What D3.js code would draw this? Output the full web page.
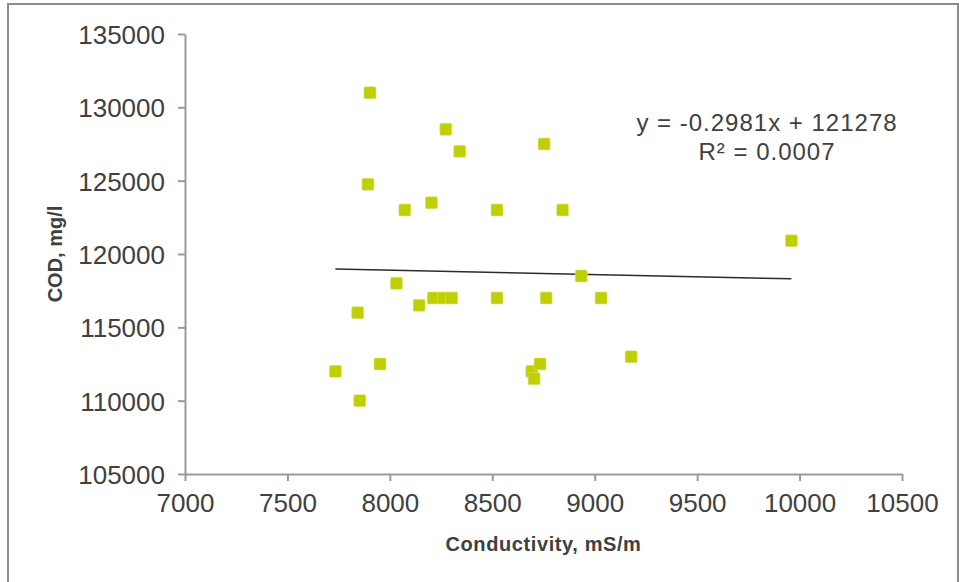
<!DOCTYPE html>
<html>
<head>
<meta charset="utf-8">
<script src="https://cdn.jsdelivr.net/npm/d3@7"></script>
<style>
  html, body { margin: 0; padding: 0; background: #fff; }
  svg { display: block; }
</style>
</head>
<body>
<svg id="chart" width="959" height="582"></svg>
<script>
// ---- data ----
const conductivity = [7903, 8273, 8341, 8753, 7893, 8073, 8203, 8523, 8843, 8032, 8143, 7843, 8212, 8261, 8302, 8523, 8763, 7734, 7952, 7853, 8693, 8733, 8704, 9960, 8934, 9031, 9178];
const cod = [131000, 128500, 127000, 127500, 124750, 123000, 123500, 123000, 123000, 118000, 116500, 116000, 117000, 117000, 117000, 117000, 117000, 112000, 112500, 110000, 112000, 112500, 111500, 120900, 118500, 117000, 113000];
const xTicks = [7000, 7500, 8000, 8500, 9000, 9500, 10000, 10500];
const yTicks = [105000, 110000, 115000, 120000, 125000, 130000, 135000];
const trendSlope = [-0.2981];
const trendIntercept = [121278];
const trendLabels = ["y = -0.2981x + 121278", "R² = 0.0007"];
const xTitle = "Conductivity, mS/m";
const yTitle = "COD, mg/l";

// ---- layout ----
const svg = d3.select("#chart");
const mLeft = 185, mRight = 902, mTop = 34, mBottom = 474;
const textColor = "#404040";
const axisColor = "#9a9a9a";

svg.append("rect")
  .attr("x", 8).attr("y", 4).attr("width", 950).attr("height", 620)
  .attr("fill", "#fff").attr("stroke", "#8c8c8c").attr("stroke-width", 2);

const x = d3.scaleLinear().domain([7000, 10500]).range([mLeft, mRight]);
const y = d3.scaleLinear().domain([105000, 135000]).range([mBottom, mTop]);

const fmt = d3.format("d");

const yAxis = svg.append("g")
  .attr("transform", `translate(${mLeft},0)`)
  .call(d3.axisLeft(y).tickValues(yTicks).tickFormat(fmt).tickSize(7).tickSizeOuter(0).tickPadding(13));

const xAxis = svg.append("g")
  .attr("transform", `translate(0,${mBottom})`)
  .call(d3.axisBottom(x).tickValues(xTicks).tickFormat(fmt).tickSize(7).tickSizeOuter(0).tickPadding(12));

[xAxis, yAxis].forEach(g => {
  g.select(".domain").attr("stroke", axisColor).attr("stroke-width", 2);
  g.selectAll(".tick line").attr("stroke", axisColor).attr("stroke-width", 2);
  g.selectAll(".tick text")
    .attr("fill", textColor)
    .style("font-family", "'Liberation Sans', Arial, sans-serif")
    .style("font-size", "26px");
});
yAxis.selectAll(".tick text").attr("dy", "0.36em");
xAxis.selectAll(".tick text").attr("dy", "0.72em");

// axis titles
svg.append("text")
  .attr("x", (mLeft + mRight) / 2).attr("y", 551)
  .attr("text-anchor", "middle")
  .attr("fill", textColor)
  .style("font-family", "'Liberation Sans', Arial, sans-serif")
  .style("font-size", "20px").style("font-weight", "bold")
  .style("letter-spacing", "0.6px")
  .text(xTitle);

svg.append("text")
  .attr("transform", `translate(62,${(mTop + mBottom) / 2}) rotate(-90)`)
  .attr("text-anchor", "middle")
  .attr("fill", textColor)
  .style("font-family", "'Liberation Sans', Arial, sans-serif")
  .style("font-size", "20px").style("font-weight", "bold")
  .text(yTitle);

// trendline
const xExtent = d3.extent(conductivity);
const trendPts = xExtent.map(v => [v, trendSlope[0] * v + trendIntercept[0]]);
svg.append("path")
  .attr("d", d3.line().x(d => x(d[0])).y(d => y(d[1]))(trendPts))
  .attr("stroke", "#2b2b2b").attr("stroke-width", 1.5).attr("fill", "none");

// points
const pts = conductivity.map((c, i) => ({ c, v: cod[i] }));
const s = 12;
svg.append("g").selectAll("rect").data(pts).join("rect")
  .attr("x", d => x(d.c) - s / 2)
  .attr("y", d => y(d.v) - s / 2)
  .attr("width", s).attr("height", s)
  .attr("rx", 1.5)
  .attr("fill", "#c0cf00")
  .attr("stroke", "#dbe58a").attr("stroke-width", 0.6);

// trendline label
svg.append("g").selectAll("text").data(trendLabels).join("text")
  .attr("x", 767)
  .attr("y", (d, i) => 131 + i * 29)
  .attr("text-anchor", "middle")
  .attr("fill", textColor)
  .style("font-family", "'Liberation Sans', Arial, sans-serif")
  .style("font-size", "24px")
  .style("letter-spacing", "1px")
  .text(d => d);
</script>
</body>
</html>
